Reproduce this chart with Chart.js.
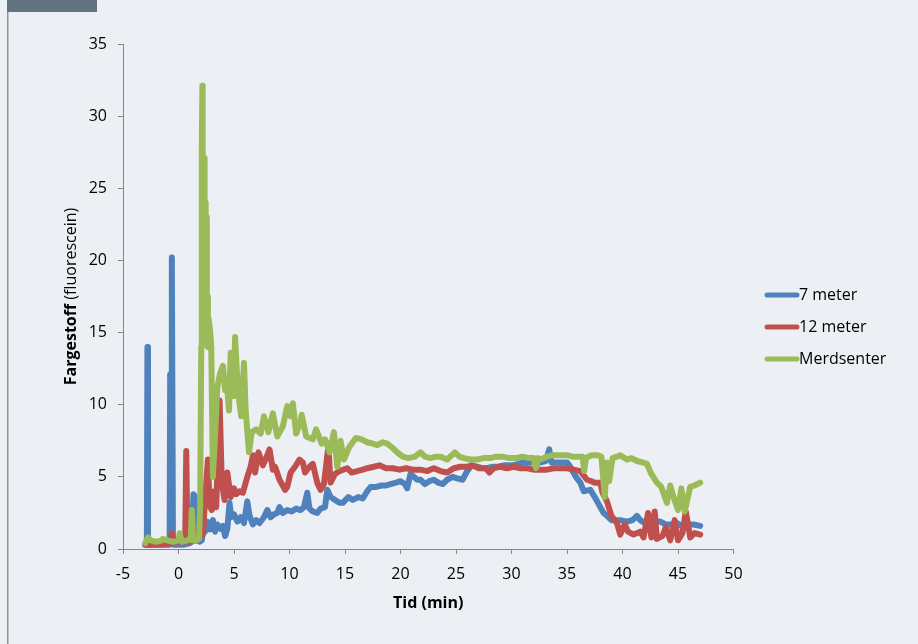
<!DOCTYPE html>
<html><head><meta charset="utf-8">
<script src="https://cdn.jsdelivr.net/npm/chart.js@4.4.0/dist/chart.umd.min.js"></script>
<style>html,body{margin:0;padding:0;background:#ECF0F4;overflow:hidden}canvas{display:block}</style>
</head><body><canvas id="c" width="918" height="644"></canvas>
<script>
const seriesNames = ['7 meter', '12 meter', 'Merdsenter'];
const seriesColors = ['#4F81BD', '#C0504D', '#9BBB59'];
const xTickValues = [-5, 0, 5, 10, 15, 20, 25, 30, 35, 40, 45, 50];
const yTickValues = [0, 5, 10, 15, 20, 25, 30, 35];
const xTitle = 'Tid (min)';
const yTitleBold = 'Fargestoff';
const yTitleRest = ' (fluorescein)';

// 7 meter
const t7 = [-3.0,-2.85,-2.8,-2.75,-2.7,-2.0,-1.0,-0.8,-0.75,-0.65,-0.6,-0.5,-0.45,0.5,1.0,1.2,1.35,1.5,1.6,1.9,2.1,2.25,2.4,2.6,2.84,3.1,3.3,3.5,3.8,4.0,4.2,4.4,4.6,4.75,5.0,5.3,5.6,5.9,6.2,6.4,6.7,7.0,7.3,7.7,8.0,8.3,8.6,8.9,9.1,9.4,9.8,10.2,10.6,11.0,11.3,11.6,11.8,12.1,12.5,12.8,13.2,13.4,13.7,14.1,14.5,14.8,15.3,15.7,16.2,16.6,17.0,17.3,17.8,18.3,18.7,19.1,19.6,20.0,20.4,20.6,20.9,21.2,21.5,21.8,22.2,22.6,23.0,23.4,23.8,24.2,24.7,25.1,25.6,26.0,26.4,26.9,27.4,27.8,28.3,28.8,29.3,29.7,30.1,30.6,31.0,31.5,32.0,32.6,33.1,33.4,33.6,34.0,34.5,35.0,35.3,35.5,35.8,36.2,36.5,37.1,37.5,38.0,38.3,38.6,39.0,39.5,39.8,40.4,40.9,41.3,41.6,42.0,42.5,43.0,43.4,43.9,44.4,44.9,45.3,45.8,46.4,47.0];
const v7 = [0.3,0.3,14.0,0.4,0.3,0.3,0.3,0.3,12.1,12.2,20.2,0.4,0.3,0.3,0.4,0.5,3.8,3.6,0.6,0.5,0.6,1.8,1.2,1.9,1.35,2.0,1.2,1.7,1.4,1.6,0.9,1.4,3.2,2.2,2.4,1.9,2.2,1.8,3.3,2.3,1.7,2.0,1.8,2.2,2.7,2.2,2.4,2.5,2.9,2.5,2.7,2.6,2.8,2.7,2.9,3.9,2.8,2.6,2.5,2.8,2.9,4.1,3.6,3.4,3.2,3.2,3.6,3.4,3.6,3.5,4.0,4.3,4.3,4.4,4.4,4.5,4.6,4.7,4.5,4.2,5.2,5.0,4.8,4.8,4.5,4.7,4.8,4.6,4.5,4.8,5.0,4.9,4.8,5.4,5.8,5.7,5.6,5.6,5.7,5.7,5.8,5.8,5.8,5.9,6.0,6.0,6.0,6.0,6.1,6.9,6.0,6.0,6.0,6.0,5.7,5.4,5.0,4.6,4.0,4.1,3.6,2.9,2.5,2.3,2.0,2.0,2.0,1.9,2.0,2.3,2.0,1.8,1.9,1.9,1.9,1.7,1.7,1.8,1.6,1.7,1.7,1.6];

// 12 meter
const t12 = [-3.0,-2.0,-1.0,-0.7,-0.6,-0.45,0.0,0.5,0.6,0.7,0.8,1.0,1.5,1.8,2.0,2.2,2.4,2.65,2.8,3.0,3.2,3.4,3.7,3.9,4.15,4.4,4.7,5.0,5.2,5.5,5.8,6.2,6.5,6.7,6.9,7.2,7.6,7.9,8.2,8.5,8.7,9.1,9.6,9.8,10.1,10.5,10.9,11.2,11.4,11.8,12.1,12.5,12.8,13.1,13.5,13.7,14.1,14.5,15.2,15.6,16.1,16.6,17.0,17.6,18.1,18.7,19.3,19.9,20.5,21.1,21.8,22.4,23.0,23.6,24.2,24.8,25.4,26.0,26.5,27.0,27.7,28.0,28.4,28.96,29.6,30.2,30.8,31.4,32.0,32.6,33.2,33.8,34.4,35.0,35.6,36.2,36.5,36.8,37.2,37.5,38.0,38.2,38.6,39.0,39.5,39.8,40.2,40.5,41.0,41.6,41.9,42.3,42.6,42.9,43.1,43.6,43.9,44.3,44.7,45.0,45.4,45.7,46.1,46.5,47.0];
const v12 = [0.3,0.3,0.35,0.4,1.1,0.5,0.5,0.5,0.6,6.8,0.6,0.5,0.6,0.7,2.2,1.0,3.5,6.2,3.0,2.7,4.0,2.9,10.3,4.6,3.4,5.3,3.6,4.2,3.8,4.0,3.9,5.0,5.7,6.5,5.3,6.7,5.8,6.3,6.9,5.5,5.7,4.8,4.1,4.3,5.3,5.7,6.2,6.0,5.3,5.7,5.9,4.6,4.1,4.5,7.1,4.6,5.2,5.4,5.6,5.3,5.4,5.5,5.6,5.7,5.8,5.6,5.6,5.5,5.6,5.5,5.5,5.4,5.6,5.4,5.3,5.6,5.7,5.7,5.8,5.6,5.6,5.3,5.6,5.7,5.6,5.7,5.6,5.6,5.5,5.5,5.5,5.6,5.6,5.6,5.5,5.4,5.1,4.8,4.7,4.6,4.6,3.9,3.3,2.3,1.8,1.0,1.7,1.2,1.0,1.2,0.8,2.5,0.8,2.6,0.7,0.9,1.5,0.6,2.0,0.6,1.1,2.6,0.8,1.1,1.0];

// Merdsenter
const tM = [-3.0,-2.9,-2.75,-2.5,-2.0,-1.5,-1.4,-1.0,-0.5,0.0,0.1,0.3,0.8,1.1,1.2,1.3,1.6,1.85,1.95,2.05,2.1,2.15,2.18,2.22,2.27,2.3,2.35,2.4,2.45,2.5,2.55,2.6,2.65,2.7,2.84,2.95,3.1,3.3,3.5,3.75,4.0,4.2,4.35,4.55,4.7,4.95,5.1,5.35,5.65,5.9,6.05,6.35,6.6,7.0,7.4,7.7,8.1,8.5,8.9,9.4,9.8,10.1,10.3,10.6,10.95,11.1,11.5,12.1,12.4,12.9,13.2,13.6,14.0,14.3,14.6,14.9,15.4,16.0,16.5,17.0,17.5,17.9,18.4,18.8,19.3,19.7,20.2,20.7,21.3,21.8,22.2,22.7,23.2,23.6,24.2,24.9,25.3,25.7,26.3,26.9,27.5,28.1,28.6,29.2,29.8,30.4,31.0,31.6,32.0,32.2,32.4,32.6,33.2,33.7,34.4,35.0,35.5,36.0,36.4,36.55,36.7,37.2,37.7,38.1,38.4,38.6,38.8,39.1,39.5,39.8,40.4,40.8,41.3,41.8,42.2,42.6,43.1,43.5,44.0,44.3,44.6,45.0,45.3,45.6,46.1,46.5,47.0];
const vM = [0.4,0.6,0.8,0.6,0.5,0.6,0.7,0.6,0.5,0.6,1.1,0.5,0.6,0.7,2.7,0.6,0.6,0.7,3.0,14.0,28.0,32.1,22.0,26.0,18.0,27.1,17.0,24.0,16.0,23.0,15.0,17.5,14.0,16.0,15.2,14.0,5.0,8.0,11.2,12.2,12.7,11.0,11.5,9.6,13.6,10.6,14.7,11.0,9.2,12.9,9.6,6.7,8.1,8.3,8.0,9.2,8.1,9.4,7.8,8.5,9.9,9.2,10.1,8.0,8.7,9.3,7.8,7.6,8.3,7.3,7.6,6.7,8.1,5.7,7.5,6.2,7.1,7.7,7.6,7.4,7.3,7.2,7.4,7.3,7.0,6.7,6.4,6.3,6.4,6.7,6.4,6.3,6.4,6.4,6.2,6.7,6.4,6.3,6.2,6.2,6.3,6.3,6.4,6.4,6.3,6.3,6.4,6.3,6.3,5.6,6.3,6.2,6.4,6.5,6.5,6.5,6.4,6.4,6.4,5.4,6.3,6.5,6.5,6.4,3.6,6.0,4.7,6.3,6.4,6.5,6.2,6.3,6.1,6.0,5.9,5.2,4.6,4.3,3.2,4.4,3.6,2.7,4.2,2.6,4.3,4.4,4.6];

const FONT = '"Open Sans", Carlito, Calibri, sans-serif';
const FS = 16;
const AXIS = '#868686';

function pts(t, v) { return t.map((x, i) => ({ x: x, y: v[i] })); }

const decor = {
  id: 'decor',
  beforeDraw(chart) {
    const ctx = chart.ctx;
    ctx.save();
    ctx.fillStyle = '#ECF0F4';
    ctx.fillRect(0, 0, chart.width, chart.height);
    ctx.fillStyle = '#8E9396';
    ctx.fillRect(7, 0, 1.5, chart.height);
    ctx.fillStyle = '#617480';
    ctx.fillRect(7, 0, 90, 12);
    ctx.restore();
  },
  afterDraw(chart) {
    const ctx = chart.ctx;
    const ca = chart.chartArea;
    ctx.save();
    ctx.translate(71, (ca.top + ca.bottom) / 2);
    ctx.rotate(-Math.PI / 2);
    ctx.textBaseline = 'middle';
    ctx.fillStyle = '#000';
    ctx.font = 'bold ' + FS + 'px ' + FONT;
    const w1 = ctx.measureText(yTitleBold).width;
    ctx.font = FS + 'px ' + FONT;
    const w2 = ctx.measureText(yTitleRest).width;
    const x0 = -(w1 + w2) / 2;
    ctx.textAlign = 'left';
    ctx.font = 'bold ' + FS + 'px ' + FONT;
    ctx.fillText(yTitleBold, x0, 0);
    ctx.font = FS + 'px ' + FONT;
    ctx.fillText(yTitleRest, x0 + w1, 0);
    ctx.restore();
    ctx.save();
    ctx.font = FS + 'px ' + FONT;
    ctx.textBaseline = 'middle';
    ctx.textAlign = 'left';
    chart.data.datasets.forEach((ds, i) => {
      const y = 295 + 32 * i;
      ctx.strokeStyle = ds.borderColor;
      ctx.lineWidth = 5;
      ctx.lineCap = 'round';
      ctx.beginPath();
      ctx.moveTo(767, y);
      ctx.lineTo(797, y);
      ctx.stroke();
      ctx.fillStyle = '#000';
      ctx.fillText(ds.label, 799, y);
    });
    ctx.restore();
  }
};

const allT = [t7, t12, tM];
const allV = [v7, v12, vM];
const datasets = seriesNames.map((name, i) => ({
  label: name,
  data: pts(allT[i], allV[i]),
  borderColor: seriesColors[i],
  backgroundColor: seriesColors[i],
  borderWidth: 6,
  pointRadius: 0,
  tension: 0,
  showLine: true,
  fill: false,
  borderJoinStyle: 'round',
  borderCapStyle: 'round',
  order: 3 - i
}));

new Chart(document.getElementById('c'), {
  type: 'scatter',
  data: { datasets },
  options: {
    responsive: false,
    animation: false,
    devicePixelRatio: 1,
    layout: { padding: { top: 44, right: 184.5, left: 0, bottom: 0 } },
    plugins: { legend: { display: false }, tooltip: { enabled: false } },
    scales: {
      x: {
        type: 'linear',
        min: xTickValues[0], max: xTickValues[xTickValues.length - 1],
        afterBuildTicks(s) { s.ticks = xTickValues.map(v => ({ value: v })); },
        afterFit(s) { s.height = 95; },
        ticks: { color: '#000', font: { family: FONT, size: FS }, padding: 11, maxRotation: 0, autoSkip: false },
        grid: { display: true, drawOnChartArea: false, drawTicks: true, tickLength: 5, tickColor: AXIS, color: AXIS },
        border: { display: true, color: AXIS, width: 1 },
        title: { display: true, text: xTitle, color: '#000', font: { family: FONT, size: FS, weight: 'bold' }, padding: { top: 4, bottom: 31 } }
      },
      y: {
        type: 'linear',
        min: yTickValues[0], max: yTickValues[yTickValues.length - 1],
        afterBuildTicks(s) { s.ticks = yTickValues.map(v => ({ value: v })); },
        afterFit(s) { s.width = 123; },
        ticks: { color: '#000', font: { family: FONT, size: FS }, padding: 11, autoSkip: false },
        grid: { display: true, drawOnChartArea: false, drawTicks: true, tickLength: 5, tickColor: AXIS, color: AXIS },
        border: { display: true, color: AXIS, width: 1 }
      }
    }
  },
  plugins: [decor]
});
</script>
</body></html>
